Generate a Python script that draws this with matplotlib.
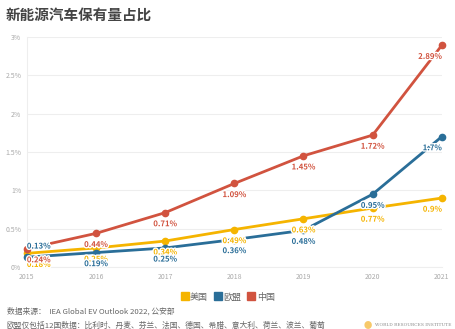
import matplotlib.pyplot as plt
import matplotlib.patheffects as pe
from matplotlib.ticker import FuncFormatter

plt.rcParams['font.family'] = ['Noto Sans CJK SC', 'DejaVu Sans']

years = [2015, 2016, 2017, 2018, 2019, 2020, 2021]
us = [0.18, 0.25, 0.34, 0.49, 0.63, 0.77, 0.9]
eu = [0.13, 0.19, 0.25, 0.36, 0.48, 0.95, 1.7]
cn = [0.24, 0.44, 0.71, 1.09, 1.45, 1.72, 2.89]
names = ['美国', '欧盟', '中国']
colors = ['#f5b400', '#2a6e98', '#d1533f']

fig = plt.figure(figsize=(4.55, 3.29), dpi=100)
ax = fig.add_axes([0.059, 0.188, 0.912, 0.70])

series = [us, eu, cn]
for vals, c in zip(series, colors):
    ax.plot(years, vals, color=c, lw=2, marker='o', ms=4.5, zorder=3,
            solid_capstyle='round')

halo = [pe.withStroke(linewidth=2, foreground='white')]
for k, (vals, c) in enumerate(zip(series, colors)):
    for i, (x, v) in enumerate(zip(years, vals)):
        dy = -8
        if k == 1 and i == 0:
            dy = 8
        ha = 'center'
        dx = 0
        if i == 0:
            ha = 'left'
            dx = 0
        elif i == len(years) - 1:
            ha = 'right'
        ax.annotate(f'{v:g}%', (x, v), xytext=(dx, dy), textcoords='offset points',
                    ha=ha, va='center', fontsize=5.6, fontweight='bold', color=c,
                    path_effects=halo, zorder=4)

ax.set_xlim(2015, 2021)
ax.set_ylim(0, 3)
ax.set_yticks([0, 0.5, 1, 1.5, 2, 2.5, 3])
ax.yaxis.set_major_formatter(FuncFormatter(lambda v, p: f'{v:g}%'))
ax.set_xticks(years)
ax.tick_params(length=0, labelsize=5, colors='#aaaaaa', pad=4)
ax.grid(axis='y', color='#eeeeee', lw=0.8)
ax.grid(axis='x', visible=False)
for s in ['top', 'right']:
    ax.spines[s].set_visible(False)
ax.spines['left'].set_color('#eeeeee')
ax.spines['bottom'].set_color('#eeeeee')
ax.set_axisbelow(True)
ax.margins(x=0)
ax.set_clip_on(False)
for ln in ax.lines:
    ln.set_clip_on(False)

fig.text(0.012, 0.955, '新能源汽车保有量占比', fontsize=10.5, fontweight='bold',
         color='#444444', va='center')

handles = [plt.Line2D([], [], marker='s', ls='', color=c, ms=6) for c in colors]
fig.legend(handles, names, loc='center', bbox_to_anchor=(0.5, 0.097), ncol=3,
           frameon=False, fontsize=6.5, labelcolor='#666666', handletextpad=0.1,
           columnspacing=0.6, handlelength=1)

fig.text(0.015, 0.052, '数据来源：  IEA Global EV Outlook 2022, 公安部', fontsize=5.6,
         color='#666666', va='center')
fig.text(0.015, 0.01, '欧盟仅包括12国数据：比利时、丹麦、芬兰、法国、德国、希腊、意大利、荷兰、波兰、葡萄',
         fontsize=5.6, color='#666666', va='center')
fig.text(0.8, 0.012, '●', fontsize=6, color='#f7c96a', va='center')
fig.text(0.825, 0.012, 'WORLD RESOURCES INSTITUTE', fontsize=3.2, color='#888888',
         va='center', family='DejaVu Serif')

fig.savefig('out.png', dpi=100)
